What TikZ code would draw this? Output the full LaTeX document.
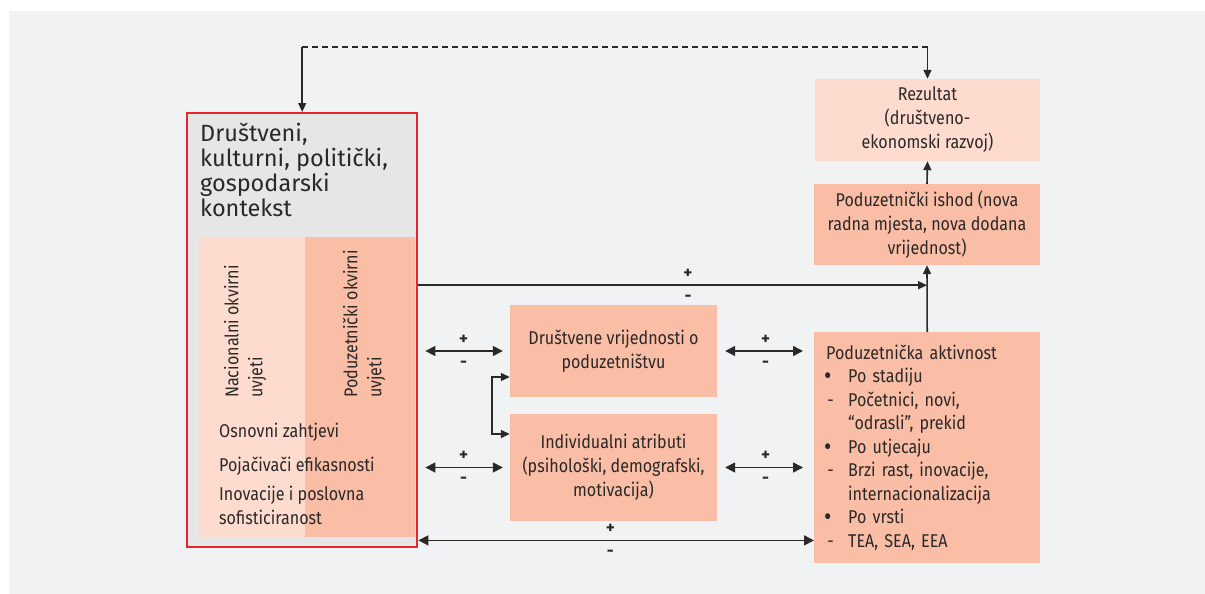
\documentclass[tikz,border=0pt]{standalone}
\usepackage{fontspec}
\setmainfont{Fira Sans}
\newfontfamily\narrowfont[FakeStretch=0.87]{Fira Sans}
\usepackage{xcolor}
\usetikzlibrary{shapes,arrows.meta,positioning,calc}

\definecolor{bggray}{HTML}{F1F2F4}
\definecolor{ctxgray}{HTML}{E6E6E7}
\definecolor{ctxred}{HTML}{E8242C}
\definecolor{salmon}{HTML}{FABEA6}
\definecolor{lightsalmon}{HTML}{FDDCCF}
\definecolor{txt}{HTML}{2B2828}
\newcommand{\bul}{\makebox[24pt][l]{\raisebox{-1.8pt}{\scalebox{1.4}{•}}}}
\newcommand{\dsh}{\makebox[24pt][l]{\,-}}

\begin{document}
\begin{tikzpicture}[x=1pt,y=-1pt,
      every node/.style={text=txt, font=\narrowfont\fontsize{18.5}{24}\selectfont},
      box/.style={fill=salmon, minimum width=207, minimum height=92, align=center, inner sep=0},
      panel/.style={minimum height=300, anchor=north west, inner sep=0},
      arr/.style={line width=1.6pt, draw=txt, -{Triangle[length=9pt,width=8pt]}},
      darr/.style={line width=1.6pt, draw=txt, {Triangle[length=10pt,width=10pt]}-{Triangle[length=10pt,width=10pt]}},
      sgn/.style={font=\bfseries\fontsize{17}{17}\selectfont, inner sep=1pt}]
      \fill[white] (0,0) rectangle (1205,594);
      \fill[bggray] (9,11) rectangle (1205,594);
      \useasboundingbox (0,0) rectangle (1205,594);

      \node[fill=ctxgray, minimum width=230, minimum height=434, anchor=north west, inner sep=0] (ctx) at (187,113) {};
      \node[anchor=north west, align=left, inner sep=0, font=\fontsize{23.5}{25}\selectfont] (ctxtitle)
        at (200,123) {Društveni,\\kulturni, politički,\\gospodarski\\kontekst};
      \node[panel, fill=lightsalmon, minimum width=106] (nacpanel) at (199,237) {};
      \node[panel, fill=salmon, minimum width=110] (podpanel) at (305,237) {};
      \draw[color=ctxred, line width=2pt] (ctx.north west) rectangle (ctx.south east);
      \node[rotate=90, anchor=west, align=left, inner sep=0] (nac) at (245,398) {Nacionalni okvirni\\uvjeti};
      \node[rotate=90, anchor=west, align=left, inner sep=0] (pod) at (364,398) {Poduzetnički okvirni\\uvjeti};
      \node[anchor=west, inner sep=0] (osn) at (219,432) {Osnovni zahtjevi};
      \node[anchor=west, inner sep=0] (poj) at (219,466) {Pojačivači efikasnosti};
      \node[anchor=west, align=left, inner sep=0] (ino) at (219,505) {Inovacije i poslovna\\sofisticiranost};

      \node[box] (dv) at (613.5,351) {Društvene vrijednosti o\\poduzetništvu};
      \node[box, minimum height=107] (ia) at (613.5,467.5) {Individualni atributi\\(psihološki, demografski,\\motivacija)};

      \node[box, fill=lightsalmon, minimum width=225, minimum height=82] (rez) at (927.5,120)
        {Rezultat\\(društveno-\\ekonomski razvoj)};
      \node[box, minimum width=226, minimum height=81] (ish) at (927,224.5)
        {Poduzetnički ishod (nova\\radna mjesta, nova dodana\\vrijednost)};
      \node[box, minimum width=226, minimum height=231, text width=206, inner xsep=10, align=left,
        anchor=north west, font=\narrowfont\fontsize{18.5}{23.5}\selectfont] (akt) at (814,332)
        {\hspace*{2pt}Poduzetnička aktivnost\\
        \bul Po stadiju\\
        \dsh Početnici, novi,\\
        \hspace*{24pt}“odrasli”, prekid\\
        \bul Po utjecaju\\
        \dsh Brzi rast, inovacije,\\
        \hspace*{24pt}internacionalizacija\\
        \bul Po vrsti\\
        \dsh TEA, SEA, EEA};

      \coordinate (fb) at (302,47);
      \coordinate (jn) at ($(ish.south)+(0,20)$);
      \coordinate (bt) at ($(ctx.south east)+(0,-7)$);

      \draw[line width=1.2pt, draw=txt, dash pattern=on 6pt off 4pt] (ctx.north |- fb) -- (rez.north |- fb);
      \draw[arr] (ctx.north |- fb) -- ([yshift=1pt]ctx.north);
      \draw[arr] (rez.north |- fb) -- (rez.north);
      \draw[arr] (akt.north) -- (ish.south);
      \draw[arr] (ish.north) -- (rez.south);
      \draw[arr] ([xshift=1pt]ctx.east |- jn) -- node[sgn, pos=0.53, above=5pt] {+} node[sgn, pos=0.53, below=8pt] {-} (jn);

      \draw[darr, shorten <=8pt, shorten >=7pt] (ctx.east |- dv.west) -- node[sgn, above=5pt] {+} node[sgn, below=8pt] {-} (dv.west);
      \draw[darr, shorten <=8pt, shorten >=7pt] (ctx.east |- ia.west) -- node[sgn, above=5pt] {+} node[sgn, below=8pt] {-} (ia.west);
      \draw[darr, shorten <=8pt, shorten >=11pt] (dv.east) -- node[sgn, above=5pt] {+} node[sgn, below=8pt] {-} (dv.east -| akt.west);
      \draw[darr, shorten <=8pt, shorten >=11pt] (ia.east) -- node[sgn, above=5pt] {+} node[sgn, below=8pt] {-} (ia.east -| akt.west);
      \draw[arr, {Triangle[length=9pt,width=8pt]}-{Triangle[length=9pt,width=8pt]}] ($(dv.west)+(0,26)$) -- ++(-18,0) |- ($(ia.west)+(0,-33.5)$);
      \draw[darr] ([xshift=1pt]bt) -- node[sgn, pos=0.485, above=5pt] {+} node[sgn, pos=0.485, below=8pt] {-} (bt -| akt.west);
    \end{tikzpicture}
\end{document}
